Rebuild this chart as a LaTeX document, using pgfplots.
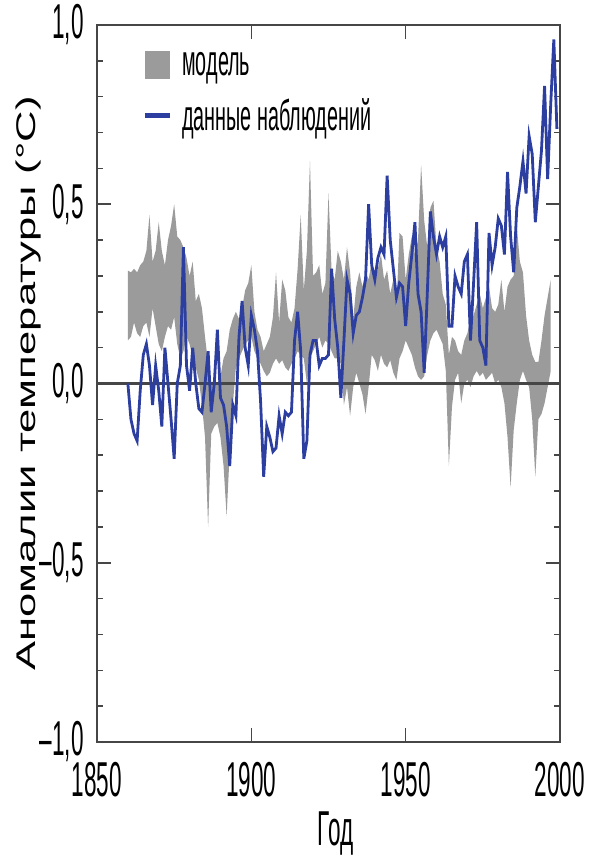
\documentclass[border=0pt]{standalone}
\usepackage{fontspec}
\setmainfont{Liberation Sans}[FakeStretch=0.46]
\newfontfamily\ylabfont{Liberation Sans}
\usepackage{graphicx}
\usepackage{pgfplots}
\pgfplotsset{compat=1.18}
\usepgfplotslibrary{fillbetween}
\usepackage{pgfplotstable}

\definecolor{bandgray}{RGB}{155,155,155}
\definecolor{obsblue}{RGB}{44,62,160}
\definecolor{axgray}{RGB}{70,70,70}

% model range (lower / upper)
\pgfplotstableread{
year lo hi
1860 0.12 0.315
1861 0.13 0.31
1862 0.17 0.32
1863 0.14 0.31
1864 0.13 0.33
1865 0.16 0.34
1866 0.17 0.37
1867 0.13 0.47
1868 0.21 0.34
1869 0.16 0.37
1870 0.11 0.45
1871 0.09 0.37
1872 0.13 0.33
1873 0.16 0.40
1874 0.15 0.44
1875 0.185 0.50
1876 0.11 0.41
1877 0.07 0.40
1878 0.09 0.38
1879 0.13 0.35
1880 0.11 0.30
1881 0.07 0.34
1882 0.045 0.23
1883 0.01 0.25
1884 -0.06 0.21
1885 -0.15 0.13
1886 -0.40 0.055
1887 -0.14 0.0
1888 -0.12 0.01
1889 -0.11 0.0
1890 -0.15 0.02
1891 -0.23 0.07
1892 -0.37 0.09
1893 -0.19 0.15
1894 -0.06 0.18
1895 0.045 0.20
1896 0.07 0.18
1897 0.09 0.21
1898 0.11 0.26
1899 0.12 0.28
1900 0.13 0.33
1901 0.09 0.20
1902 0.07 0.15
1903 0.055 0.13
1904 0.035 0.09
1905 0.02 0.11
1906 0.03 0.13
1907 0.055 0.185
1908 0.07 0.31
1909 0.055 0.17
1910 0.065 0.29
1911 0.045 0.26
1912 0.035 0.185
1913 0.055 0.17
1914 0.07 0.21
1915 0.09 0.32
1916 0.08 0.47
1917 0.07 0.26
1918 0.0 0.37
1919 0.07 0.62
1920 0.09 0.30
1921 0.11 0.31
1922 0.13 0.33
1923 0.10 0.25
1924 0.12 0.28
1925 0.11 0.53
1926 0.09 0.315
1927 0.07 0.29
1928 0.07 0.37
1929 0.055 0.34
1930 -0.06 0.29
1931 -0.01 0.38
1932 -0.09 0.31
1933 -0.01 0.18
1934 0.03 0.27
1935 0.0 0.31
1936 -0.03 0.27
1937 -0.085 0.31
1938 -0.01 0.29
1939 0.08 0.34
1940 0.065 0.28
1941 0.035 0.32
1942 0.08 0.36
1943 0.055 0.29
1944 0.045 0.315
1945 0.065 0.25
1946 0.03 0.29
1947 0.01 0.21
1948 0.07 0.42
1949 0.09 0.41
1950 0.12 0.29
1951 0.10 0.36
1952 0.08 0.41
1953 0.045 0.36
1954 0.02 0.40
1955 0.01 0.61
1956 0.02 0.455
1957 0.08 0.38
1958 0.12 0.49
1959 0.14 0.51
1960 0.15 0.38
1961 0.13 0.34
1962 0.11 0.25
1963 0.035 0.22
1964 -0.23 0.08
1965 -0.065 0.13
1966 0.01 0.12
1967 0.03 0.09
1968 -0.055 0.08
1969 0.0 0.12
1970 0.01 0.14
1971 -0.01 0.18
1972 0.02 0.19
1973 0.035 0.22
1974 0.02 0.25
1975 0.03 0.21
1976 0.01 0.24
1977 0.02 0.27
1978 0.03 0.21
1979 0.0 0.20
1980 0.01 0.22
1981 -0.01 0.29
1982 -0.055 0.20
1983 -0.15 0.27
1984 -0.29 0.29
1985 -0.13 0.30
1986 -0.055 0.44
1987 0.01 0.34
1988 0.035 0.31
1989 0.01 0.19
1990 -0.01 0.12
1991 -0.10 0.08
1992 -0.26 0.06
1993 -0.10 0.06
1994 -0.085 0.12
1995 -0.055 0.19
1996 -0.01 0.24
1997 0.035 0.29
}\model

% observed anomalies
\pgfplotstableread{
year t
1860 0.00
1861 -0.10
1862 -0.14
1863 -0.16
1864 -0.02
1865 0.08
1866 0.11
1867 0.05
1868 -0.06
1869 0.05
1870 -0.02
1871 -0.12
1872 0.10
1873 0.00
1874 -0.10
1875 -0.21
1876 0.00
1877 0.05
1878 0.38
1879 0.05
1880 -0.02
1881 0.10
1882 0.00
1883 -0.07
1884 -0.08
1885 0.00
1886 0.09
1887 -0.08
1888 0.00
1889 0.15
1890 -0.04
1891 -0.06
1892 -0.12
1893 -0.23
1894 -0.06
1895 -0.09
1896 0.13
1897 0.23
1898 0.10
1899 0.05
1900 0.19
1901 0.15
1902 0.09
1903 -0.05
1904 -0.26
1905 -0.12
1906 -0.15
1907 -0.19
1908 -0.18
1909 -0.09
1910 -0.14
1911 -0.08
1912 -0.09
1913 -0.08
1914 0.12
1915 0.20
1916 0.09
1917 -0.21
1918 -0.16
1919 0.08
1920 0.12
1921 0.12
1922 0.05
1923 0.07
1924 0.07
1925 0.08
1926 0.32
1927 0.18
1928 0.10
1929 -0.04
1930 0.12
1931 0.29
1932 0.25
1933 0.14
1934 0.19
1935 0.20
1936 0.24
1937 0.29
1938 0.50
1939 0.33
1940 0.29
1941 0.35
1942 0.38
1943 0.36
1944 0.58
1945 0.40
1946 0.32
1947 0.24
1948 0.28
1949 0.27
1950 0.16
1951 0.28
1952 0.36
1953 0.45
1954 0.25
1955 0.20
1956 0.03
1957 0.25
1958 0.48
1959 0.41
1960 0.36
1961 0.41
1962 0.38
1963 0.41
1964 0.16
1965 0.16
1966 0.30
1967 0.27
1968 0.25
1969 0.34
1970 0.36
1971 0.12
1972 0.28
1973 0.45
1974 0.12
1975 0.10
1976 0.05
1977 0.42
1978 0.33
1979 0.38
1980 0.46
1981 0.44
1982 0.36
1983 0.59
1984 0.41
1985 0.31
1986 0.49
1987 0.55
1988 0.62
1989 0.53
1990 0.69
1991 0.64
1992 0.45
1993 0.55
1994 0.65
1995 0.83
1996 0.57
1997 0.78
1998 0.96
1999 0.71
}\obs

\begin{document}
\begin{tikzpicture}
\begin{axis}[
    scale only axis, width=231.5pt, height=358.5pt,
    xmin=1850, xmax=2000, ymin=-1, ymax=1,
    axis line style={axgray, line width=1pt},
    xtick={1850,1900,1950,2000},
    xticklabels={1850,1900,1950,2000},
    ytick={-1,-0.5,0,0.5,1},
    yticklabels={{–1,0},{–0,5},{0,0},{0,5},{1,0}},
    minor ytick={-0.9,-0.8,-0.7,-0.6,-0.4,-0.3,-0.2,-0.1,0.1,0.2,0.3,0.4,0.6,0.7,0.8,0.9},
    tick align=inside,
    major tick length=7pt, minor tick length=3pt,
    tick style={axgray, line width=0.8pt},
    ticklabel style={font=\fontsize{24.5}{28}\selectfont},
    xticklabel style={inner ysep=10pt},
    yticklabel style={inner xsep=6.5pt},
    xlabel={Год},
    xlabel style={font=\fontsize{24.5}{28}\selectfont, at={(axis description cs:0.516,-0.128)}, anchor=center},
    ylabel={\scalebox{1}[0.62]{\ylabfont\fontsize{21.8}{24}\selectfont Аномалии температуры (°C)}},
    ylabel style={at={(axis description cs:-0.149,0.5)}, anchor=center},
    legend style={at={(axis description cs:0.097,0.968)}, anchor=north west,
      draw=none, fill=none, inner sep=0pt, row sep=6pt, column sep=3pt,
      font=\fontsize{21.5}{24}\selectfont},
    legend cell align=left,
  ]
  \addplot[draw=none, name path=U, forget plot] table[x=year, y=hi] {\model};
  \addplot[draw=none, name path=L, forget plot] table[x=year, y=lo] {\model};
  \addplot[bandgray, draw=none,
    legend image code/.code={\fill[bandgray] (0pt,-7pt) rectangle (12.5pt,7pt);}]
    fill between[of=U and L];
  \addlegendentry{модель}
  \addplot[axgray, line width=1.2pt, forget plot] coordinates {(1850,0) (2000,0)};
  \addplot[obsblue, line width=1.4pt,
    legend image code/.code={\draw[obsblue, line width=2.5pt] (0pt,0pt) -- (12.5pt,0pt);}]
    table[x=year, y=t] {\obs};
  \addlegendentry{данные наблюдений}
\end{axis}
\pgfresetboundingbox
\path[use as bounding box] (-48.5pt,-57.5pt) rectangle (246.5pt,371pt);
\end{tikzpicture}
\end{document}
